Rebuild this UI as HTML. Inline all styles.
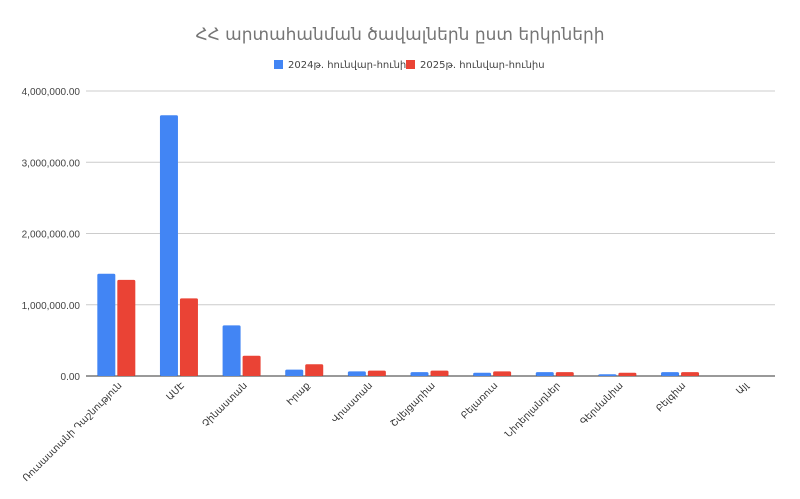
<!DOCTYPE html>
<html><head><meta charset="utf-8"><style>
body{margin:0;background:#fff;font-family:"Liberation Sans","DejaVu Sans",sans-serif}
</style></head><body>
<svg width="800" height="494" id="c">
<text x="400" y="40" text-anchor="middle" font-size="17" fill="#757575" font-family="DejaVu Sans, sans-serif">ՀՀ արտահանման ծավալներն ըստ երկրների</text>
<g font-size="10" fill="#444" font-family="DejaVu Sans, sans-serif">
<rect x="274" y="60" width="9" height="9" fill="#4285f4"/>
<text x="288" y="68">2024թ. հունվար-հունիս</text>
<rect x="406" y="60" width="9" height="9" fill="#ea4335"/>
<text x="420" y="68">2025թ. հունվար-հունիս</text>
</g>
<g id="grid"></g><g id="bars"></g><g id="labels"></g>
</svg>
<script>
const categories=["Ռուսաստանի Դաշնություն","ԱՄԷ","Չինաստան","Իրաք","Վրաստան","Շվեյցարիա","Բելառուս","Նիդերլանդներ","Գերմանիա","Բելգիա","Այլ"];
const values2024=[1435000,3660000,710000,90000,65000,55000,45000,55000,25000,55000,0];
const values2025=[1350000,1090000,285000,165000,75000,75000,65000,55000,45000,55000,0];
const tickValues=[0,1000000,2000000,3000000,4000000];
const tickLabels=["0.00","1,000,000.00","2,000,000.00","3,000,000.00","4,000,000.00"];
const NS="http://www.w3.org/2000/svg";
const x0=86,x1=775,y0=376,yTop=91,maxV=4000000;
const y=v=>y0-(v/maxV)*(y0-yTop);
const band=(x1-x0)/categories.length;
const cx=i=>x0+band*(i+0.5)-1;
function mk(t,a,p){const e=document.createElementNS(NS,t);for(const k in a)e.setAttribute(k,a[k]);p.appendChild(e);return e;}
const grid=document.getElementById('grid');
tickValues.forEach((v,i)=>{
 const l=mk('line',{x1:x0,x2:x1,y1:y(v),y2:y(v),stroke:i===0?'#333':'#ccc','stroke-width':1},grid);
 
 
 const t=mk('text',{x:80,y:y(v)+4,'text-anchor':'end','font-size':10,fill:'#444'},grid);
 t.textContent=tickLabels[i];
 
 
});
const bars=document.getElementById('bars');
const bw=18;
categories.forEach((c,i)=>{
 const b1=mk('rect',{x:cx(i)-bw-1,y:y(values2024[i]),width:bw,height:y0-y(values2024[i]),fill:'#4285f4',rx:1.5},bars);
 
 
 const b2=mk('rect',{x:cx(i)+1,y:y(values2025[i]),width:bw,height:y0-y(values2025[i]),fill:'#ea4335',rx:1.5},bars);
 
 
 const t=mk('text',{x:cx(i)+6,y:386,'text-anchor':'end','font-size':9.5,fill:'#333','font-family':'DejaVu Sans, sans-serif',transform:`rotate(-45 ${cx(i)+6} 386)`},document.getElementById('labels'));
 t.textContent=c;
 
 
});
</script>
</body></html>
